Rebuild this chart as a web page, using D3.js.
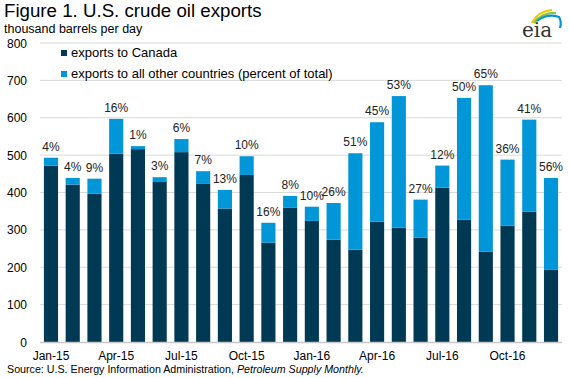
<!DOCTYPE html>
<html><head><meta charset="utf-8">
<script src="https://cdn.jsdelivr.net/npm/d3@7"></script>
<style>body{margin:0;background:#fff}svg{display:block;font-family:Arial,"Liberation Sans",sans-serif}</style>
</head><body><svg id="c" width="569" height="378"></svg>
<script>
const months = ["Jan-15","Feb-15","Mar-15","Apr-15","May-15","Jun-15","Jul-15","Aug-15","Sep-15","Oct-15","Nov-15","Dec-15",
  "Jan-16","Feb-16","Mar-16","Apr-16","May-16","Jun-16","Jul-16","Aug-16","Sep-16","Oct-16","Nov-16","Dec-16"];
const canada = [472,421,397,504,516,428,508,423,357,447,266,359,324,274,247,322,306,279,413,327,242,311,349,193];
const other  = [21,18,40,93,8,13,35,34,50,50,53,32,38,98,258,266,352,102,59,326,445,177,246,246];
const pctLabels = ["4%","4%","9%","16%","1%","3%","6%","7%","13%","10%","16%","8%","10%","26%","51%","45%","53%","27%","12%","50%","65%","36%","41%","56%"];
const yTicks = [0,100,200,300,400,500,600,700,800];
const xTickLabels = ["Jan-15","Apr-15","Jul-15","Oct-15","Jan-16","Apr-16","Jul-16","Oct-16"];
const seriesNames = ["exports to Canada","exports to all other countries (percent of total)"];
const colors = ["#003953","#0096d7"];

const svg = d3.select("#c");
const x = d3.scaleBand().domain(months).range([40,562]).paddingInner(0.35).paddingOuter(0.18);
const y = d3.scaleLinear().domain([0,800]).range([342,43]);

// gridlines
svg.append("g").selectAll("line").data(yTicks.filter(d=>d>0)).join("line")
  .attr("x1",40).attr("x2",562).attr("y1",d=>y(d)).attr("y2",d=>y(d))
  .attr("stroke","#d9d9d9").attr("stroke-width",1);

// y labels
svg.append("g").selectAll("text").data(yTicks).join("text")
  .attr("x",27).attr("y",d=>y(d)+4.5).attr("text-anchor","end")
  .attr("font-size",12).attr("fill","#000").text(d=>d);

// bars
const stack = months.map((m,i)=>({m, c:canada[i], o:other[i], p:pctLabels[i]}));
svg.append("g").selectAll("rect.c").data(stack).join("rect")
  .attr("x",d=>x(d.m)).attr("width",x.bandwidth())
  .attr("y",d=>y(d.c)).attr("height",d=>y(0)-y(d.c)).attr("fill",colors[0]);
svg.append("g").selectAll("rect.o").data(stack).join("rect")
  .attr("x",d=>x(d.m)).attr("width",x.bandwidth())
  .attr("y",d=>y(d.c+d.o)).attr("height",d=>y(d.c)-y(d.c+d.o)).attr("fill",colors[1]);
svg.append("g").selectAll("text").data(stack).join("text")
  .attr("x",d=>x(d.m)+x.bandwidth()/2).attr("y",d=>y(d.c+d.o)-7)
  .attr("text-anchor","middle").attr("font-size",12).attr("fill","#222").text(d=>d.p);

// axis line
svg.append("line").attr("x1",40).attr("x2",562).attr("y1",y(0)+0.5).attr("y2",y(0)+0.5)
  .attr("stroke","#c8c8c8").attr("stroke-width",1.5);

// x labels
svg.append("g").selectAll("text").data(xTickLabels).join("text")
  .attr("x",d=>x(d)+x.bandwidth()/2).attr("y",360).attr("text-anchor","middle")
  .attr("font-size",12).attr("fill","#000").text(d=>d);

// legend
const lg = svg.append("g");
seriesNames.forEach((n,i)=>{
  const ly = 52 + i*21;
  lg.append("rect").attr("x",61).attr("y",ly-2).attr("width",6).attr("height",6).attr("fill",colors[i]);
  lg.append("text").attr("x",71).attr("y",ly+5).attr("font-size",13).attr("fill","#000").text(n);
});

// titles
svg.append("text").attr("x",4).attr("y",17).attr("font-size",18.7).attr("fill","#000").text("Figure 1. U.S. crude oil exports");
svg.append("text").attr("x",4).attr("y",32.5).attr("font-size",12.5).attr("fill","#000").text("thousand barrels per day");

// source
const src = svg.append("text").attr("x",7).attr("y",373).attr("font-size",10.7).attr("fill","#000");
src.append("tspan").text("Source: U.S. Energy Information Administration, ");
src.append("tspan").attr("font-style","italic").text("Petroleum Supply Monthly.");

// eia logo
const logo = svg.append("g");
logo.append("path").attr("d","M532,23 Q538,11 552,10").attr("fill","none").attr("stroke","#f2c500").attr("stroke-width",2.2);
logo.append("path").attr("d","M534,23 Q542,12 556,13").attr("fill","none").attr("stroke","#8cc63f").attr("stroke-width",2.2);
logo.append("path").attr("d","M537,21 Q547,13 559,17 Q562,22 560,28").attr("fill","none").attr("stroke","#0096d7").attr("stroke-width",2.2);
logo.append("text").attr("x",522).attr("y",37).attr("font-family","'DejaVu Serif','Liberation Serif',serif")
  .attr("font-size",20).attr("fill","#333").text("eia");
</script></body></html>
